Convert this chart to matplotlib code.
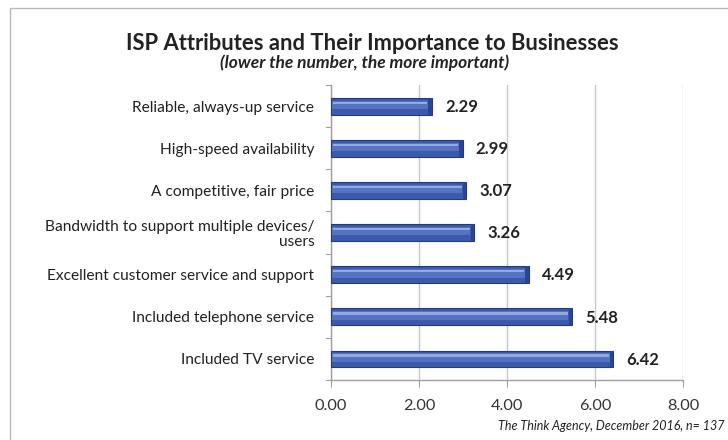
import matplotlib
matplotlib.use("Agg")
import matplotlib.pyplot as plt
from matplotlib.patches import Rectangle

plt.rcParams['font.family'] = ['Lato', 'DejaVu Sans']

categories = [
    "Reliable, always-up service",
    "High-speed availability",
    "A competitive, fair price",
    "Bandwidth to support multiple devices/\nusers",
    "Excellent customer service and support",
    "Included telephone service",
    "Included TV service",
]
scores = [2.29, 2.99, 3.07, 3.26, 4.49, 5.48, 6.42]
xticks = [0, 2, 4, 6, 8]
xtick_labels = ["0.00", "2.00", "4.00", "6.00", "8.00"]

fig = plt.figure(figsize=(7.28, 4.40), dpi=100)
fig.patch.set_facecolor("white")

# chart frame
fig.patches.append(Rectangle((10 / 728, -0.1), 1.2, (440 - 8) / 440 + 0.1,
                             transform=fig.transFigure, fill=False,
                             edgecolor="#b8b8b8", linewidth=1.0))

ax = fig.add_axes([331 / 728, 1 - 380 / 440, (683 - 331) / 728, (380 - 85) / 440])
ypos = list(range(len(categories)))
h = 0.40

# bevelled bars: dark base, lighter band, thin highlight, darker end cap
ax.barh(ypos, scores, height=h, color="#3b5aac", edgecolor="#243a7c",
        linewidth=0.8, zorder=3)
ax.barh([y - h * 0.08 for y in ypos], [s - 0.12 for s in scores], left=0.03,
        height=h * 0.50, color="#5473c3", linewidth=0, zorder=4)
ax.barh([y - h * 0.20 for y in ypos], [s - 0.14 for s in scores], left=0.04,
        height=h * 0.14, color="#94aadf", linewidth=0, zorder=5)
ax.barh(ypos, [0.08] * len(scores), left=[s - 0.08 for s in scores],
        height=h, color="#2c4590", linewidth=0, zorder=6)

for y, s in zip(ypos, scores):
    ax.text(s + 0.3, y + 0.02, f"{s:.2f}", va="center", ha="left",
            fontsize=12, fontweight="bold", color="#222222")

ax.set_xlim(0, 8)
ax.set_ylim(len(categories) - 0.5, -0.5)
ax.set_xticks(xticks)
ax.set_xticklabels(xtick_labels, fontsize=11.7, color="#333333")
ax.set_yticks(ypos)
ax.set_yticklabels(categories, fontsize=11.2, color="#222222", linespacing=1.1)
ax.tick_params(axis="y", length=0, pad=12)
ax.tick_params(axis="x", length=5, color="#a0a0a0", pad=9)

# category boundary ticks on left axis
for b in range(len(categories) + 1):
    ax.plot([-0.12, 0], [b - 0.5, b - 0.5], color="#a0a0a0", lw=0.8,
            clip_on=False, zorder=2)

ax.grid(axis="x", color="#c8c8c8", linewidth=1.0, zorder=0)
ax.set_axisbelow(True)
for side in ["top", "right"]:
    ax.spines[side].set_visible(False)
for side in ["left", "bottom"]:
    ax.spines[side].set_color("#a0a0a0")
    ax.spines[side].set_linewidth(1.0)

fig.text(372 / 728, 1 - 43 / 440, "ISP Attributes and Their Importance to Businesses",
         ha="center", va="center", fontsize=15.8, fontweight="bold", color="#222222")
fig.text(365 / 728, 1 - 63 / 440, "(lower the number, the more important)",
         ha="center", va="center", fontsize=12.5, fontweight="bold", style="italic",
         color="#222222")
fig.text(724 / 728, 1 - 426 / 440, "The Think Agency, December 2016, n= 137",
         ha="right", va="center", fontsize=9, style="italic", color="#222222")

fig.savefig("out.png", dpi=100, facecolor="white")
